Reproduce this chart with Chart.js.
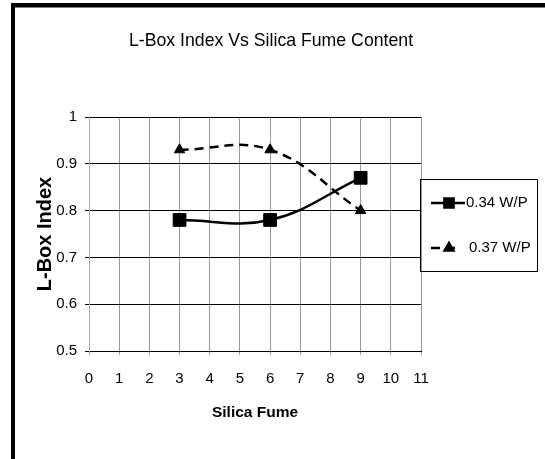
<!DOCTYPE html>
<html lang="en">
    <head>
        <meta charset="UTF-8" />
        <title>L-Box Index Vs Silica Fume Content</title>
        <script src="https://cdn.jsdelivr.net/npm/chart.js"></script>
        <style>
            body { margin: 0; background: #fff; }
            canvas { display: block; }
        </style>
    </head>
    <body>
        <canvas id="lboxChart" width="545" height="459"></canvas>

        <script>
            const chartTitle = "L-Box Index Vs Silica Fume Content";
            const xTickLabels = ["0", "1", "2", "3", "4", "5", "6", "7", "8", "9", "10", "11"];
            const yTickLabels = ["0.5", "0.6", "0.7", "0.8", "0.9", "1"];
            const silicaFume = [3, 6, 9];
            const wp034 = [0.78, 0.78, 0.87];
            const wp037 = [0.93, 0.93, 0.8];
            const seriesLabels = ["0.34 W/P", "0.37 W/P"];

            const font = '"Liberation Sans", Arial, sans-serif';

            function toPoints(values) {
                return silicaFume.map((x, i) => ({ x: x, y: values[i] }));
            }

            // frame, title and boxed legend like the Excel original
            const decor = {
                id: "decor",
                beforeDraw(chart) {
                    const ctx = chart.ctx;
                    ctx.save();
                    ctx.fillStyle = "#fff";
                    ctx.fillRect(0, 0, chart.width, chart.height);
                    ctx.fillStyle = "#000";
                    ctx.fillRect(11, 3, 4, chart.height);
                    ctx.fillRect(11, 3, chart.width, 4.5);
                    ctx.restore();
                },
                afterDraw(chart) {
                    const ctx = chart.ctx;
                    ctx.save();
                    ctx.fillStyle = "#000";
                    ctx.textAlign = "center";
                    ctx.textBaseline = "middle";
                    ctx.font = "17.7px " + font;
                    ctx.fillText(chartTitle, 271, 41);

                    ctx.strokeStyle = "#000";
                    ctx.lineWidth = 1;
                    ctx.strokeRect(420.5, 179.5, 117, 92);

                    const rows = [203, 248];
                    chart.data.datasets.forEach((ds, i) => {
                        const y = rows[i];
                        ctx.beginPath();
                        ctx.setLineDash(ds.borderDash || []);
                        ctx.lineWidth = ds.borderWidth;
                        ctx.moveTo(431, y);
                        ctx.lineTo(ds.borderDash ? 456 : 465, y);
                        ctx.stroke();
                        ctx.setLineDash([]);
                        Chart.helpers.drawPoint(ctx, {
                            pointStyle: ds.pointStyle,
                            radius: ds.pointStyle === "rect" ? 6.5 : 5,
                            rotation: 0,
                            borderWidth: 1
                        }, 449, y);
                        ctx.fillStyle = "#000";
                        ctx.textAlign = "left";
                        ctx.font = "15px " + font;
                        ctx.fillText(ds.label, ds.borderDash ? 469 : 466, y);
                    });
                    ctx.restore();
                }
            };

            new Chart(document.getElementById("lboxChart"), {
                type: "line",
                data: {
                    datasets: [
                        {
                            label: seriesLabels[0],
                            data: toPoints(wp034),
                            borderColor: "#000",
                            backgroundColor: "#000",
                            borderWidth: 2.5,
                            pointStyle: "rect",
                            pointRadius: 9,
                            pointBorderWidth: 1,
                            tension: 0.4,
                            fill: false
                        },
                        {
                            label: seriesLabels[1],
                            data: toPoints(wp037),
                            borderColor: "#000",
                            backgroundColor: "#000",
                            borderWidth: 2.5,
                            borderDash: [9, 6],
                            pointStyle: "triangle",
                            pointRadius: 6,
                            pointBorderWidth: 1,
                            tension: 0.4,
                            fill: false
                        }
                    ]
                },
                options: {
                    responsive: false,
                    animation: false,
                    layout: { padding: { left: 0, top: 117, right: 124, bottom: 0 } },
                    plugins: {
                        legend: { display: false },
                        title: { display: false },
                        tooltip: { enabled: false }
                    },
                    scales: {
                        x: {
                            type: "linear",
                            min: 0,
                            max: 11,
                            afterFit: (s) => { s.height = 108; },
                            ticks: {
                                stepSize: 1,
                                autoSkip: false,
                                maxRotation: 0,
                                padding: 15,
                                color: "#000",
                                font: { family: font, size: 15 },
                                callback: (v, i) => xTickLabels[i]
                            },
                            grid: { color: "#999", lineWidth: 1, tickLength: 4, tickColor: "#999" },
                            border: { color: "#000", width: 1 },
                            title: {
                                display: true,
                                text: "Silica Fume",
                                color: "#000",
                                font: { family: font, size: 15.5, weight: "bold" },
                                padding: { top: 0, bottom: 37 }
                            }
                        },
                        y: {
                            min: 0.5,
                            max: 1,
                            afterFit: (s) => { s.width = 89; },
                            ticks: {
                                stepSize: 0.1,
                                padding: 8,
                                color: "#000",
                                font: { family: font, size: 15 },
                                callback: (v, i) => yTickLabels[i]
                            },
                            grid: { color: "#000", lineWidth: 1, tickLength: 4, tickColor: "#000" },
                            border: { color: "#aaa", width: 1 },
                            title: {
                                display: true,
                                text: "L-Box Index",
                                color: "#000",
                                font: { family: font, size: 20, weight: "bold" },
                                padding: { top: 33, bottom: 0 }
                            }
                        }
                    }
                },
                plugins: [decor]
            });
        </script>
    </body>
</html>
